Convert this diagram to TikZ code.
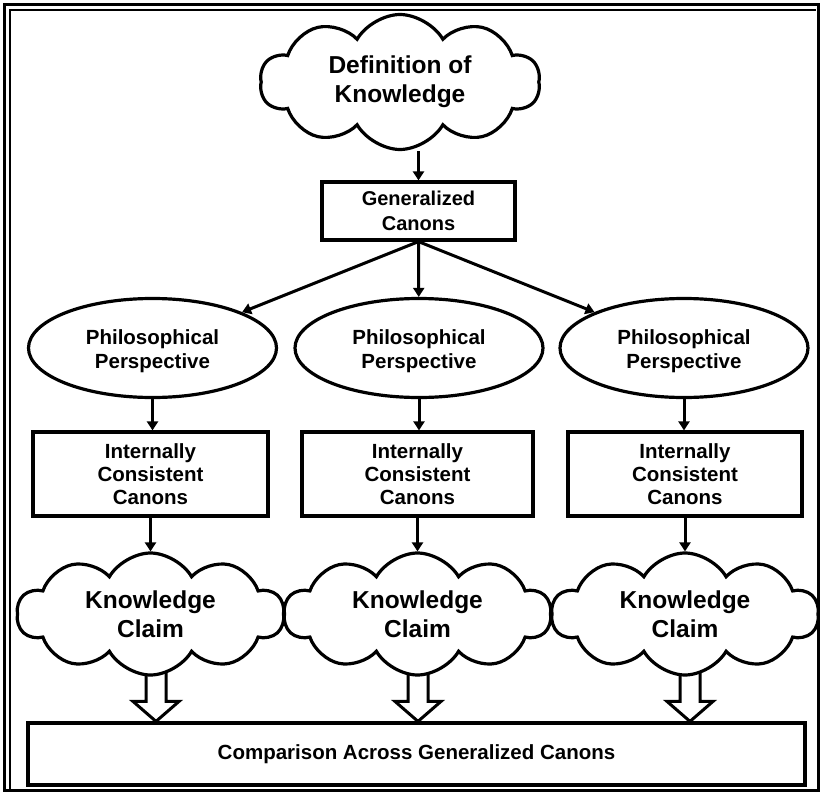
\documentclass[tikz,border=0pt]{standalone}
\usepackage{fontspec}
\setmainfont{Liberation Sans}
\usetikzlibrary{shapes.symbols,shapes.geometric,arrows.meta,calc}
\pgfdeclarelayer{bg}
\pgfsetlayers{bg,main}
\newcommand{\blockarr}[2]{%
  \draw[blk] let \p1=(#1), \p2=(#2) in
    (\x2-10pt,\y1) -- (\x2-10pt,\y2+20pt) -- (\x2-23pt,\y2+20pt) -- (\x2,\y2)
    -- (\x2+23pt,\y2+20pt) -- (\x2+10pt,\y2+20pt) -- (\x2+10pt,\y1);}
\newcommand{\pptext}{\rule{0pt}{22pt}Philosophical\\Perspective}
\begin{document}
\begin{tikzpicture}[x=1pt,y=-1pt,
  every node/.style={font=\bfseries, align=center, line width=3.2pt, draw, fill=white, inner sep=2pt},
  cloudbox/.style={cloud, cloud puffs=10, cloud puff arc=120, aspect=2.2,
    font=\bfseries\fontsize{24.5}{29}\selectfont},
  rectbox/.style={rectangle},
  ellbox/.style={ellipse, minimum width=248pt, minimum height=99pt,
    font=\bfseries\fontsize{20.5}{24}\selectfont},
  icbox/.style={rectangle, minimum width=233pt, minimum height=84pt,
    font=\bfseries\fontsize{20.5}{23}\selectfont},
  arr/.style={line width=3pt, -{Triangle[length=9pt,width=11pt]}},
  blk/.style={line width=3pt, line join=miter},
  frame/.style={line width=3pt}]
\useasboundingbox (0,0) rectangle (823,795);
\draw[frame] (4,4) rectangle (818,790);
\draw[line width=1.2pt] (10,789) -- (10,10) -- (816,10);

\node[cloudbox, minimum width=280pt, minimum height=135pt] (def) at (400,82) {Definition of\\Knowledge};
\node[rectbox, minimum width=193pt, minimum height=58pt,
  font=\bfseries\fontsize{20}{25}\selectfont] (gen) at (418.5,211) {Generalized\\Canons};

\node[ellbox] (pp1) at (152.5,348) {\pptext};
\node[ellbox] (pp2) at (419,348) {\pptext};
\node[ellbox] (pp3) at (684,348) {\pptext};

\node[icbox, minimum width=235pt] (ic1) at (150.5,474) {Internally\\Consistent\\Canons};
\node[icbox, minimum width=231pt] (ic2) at (417.5,474) {Internally\\Consistent\\Canons};
\node[icbox, minimum width=234pt] (ic3) at (685,474) {Internally\\Consistent\\Canons};

\node[cloudbox, minimum width=267pt, minimum height=122pt] (kc1) at (150.5,614) {Knowledge\\Claim};
\node[cloudbox, minimum width=267pt, minimum height=122pt] (kc2) at (417.5,614) {Knowledge\\Claim};
\node[cloudbox, minimum width=267pt, minimum height=122pt] (kc3) at (685,614) {Knowledge\\Claim};

\node[rectbox, minimum width=777pt, minimum height=62pt,
  font=\bfseries\fontsize{20.5}{24}\selectfont] (cmp) at (416.5,754) {Comparison Across Generalized Canons};

\draw[arr] (def.south -| gen.north) -- (gen.north);
\draw[arr] (gen.south) -- (pp1);
\draw[arr] (gen.south) -- (pp2);
\draw[arr] (gen.south) -- (pp3);
\foreach \i in {1,2,3}{
  \draw[arr] (pp\i.south) -- (pp\i.south |- ic\i.north);
  \draw[arr] (ic\i.south) -- (kc\i);
}
\coordinate (b1) at (cmp.north -| 156,0);
\coordinate (b2) at (cmp.north -| 418,0);
\coordinate (b3) at (cmp.north -| 690,0);
\begin{pgfonlayer}{bg}
\blockarr{kc1.center}{b1}
\blockarr{kc2.center}{b2}
\blockarr{kc3.center}{b3}
\end{pgfonlayer}
\end{tikzpicture}
\end{document}
